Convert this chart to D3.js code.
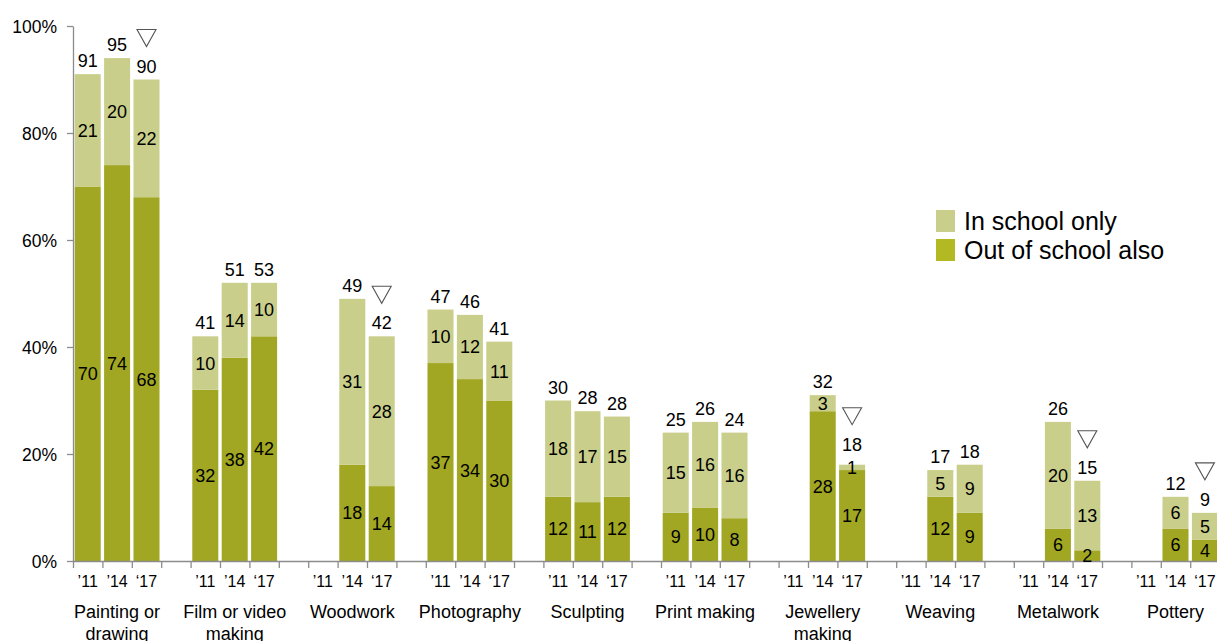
<!DOCTYPE html>
<html>
<head>
<meta charset="utf-8">
<script src="https://cdn.jsdelivr.net/npm/d3@7"></script>
<style>
  html, body { margin: 0; padding: 0; background: #fff; }
  svg { display: block; font-family: "Liberation Sans", Arial, sans-serif; }
</style>
</head>
<body>
<svg id="chart" width="1217" height="641"></svg>
<script>
// ---- data ----
const categories = [
  ["Painting or", "drawing"],
  ["Film or video", "making"],
  ["Woodwork"],
  ["Photography"],
  ["Sculpting"],
  ["Print making"],
  ["Jewellery", "making"],
  ["Weaving"],
  ["Metalwork"],
  ["Pottery"]
];
const years = ["\u201911", "\u201914", "\u201817"];
const outOfSchool = [
  [70, 74, 68],
  [32, 38, 42],
  [null, 18, 14],
  [37, 34, 30],
  [12, 11, 12],
  [9, 10, 8],
  [null, 28, 17],
  [null, 12, 9],
  [null, 6, 2],
  [null, 6, 4]
];
const inSchoolOnly = [
  [21, 20, 22],
  [10, 14, 10],
  [null, 31, 28],
  [10, 12, 11],
  [18, 17, 15],
  [15, 16, 16],
  [null, 3, 1],
  [null, 5, 9],
  [null, 20, 13],
  [null, 6, 5]
];
const totals = [
  [91, 95, 90],
  [41, 51, 53],
  [null, 49, 42],
  [47, 46, 41],
  [30, 28, 28],
  [25, 26, 24],
  [null, 32, 18],
  [null, 17, 18],
  [null, 26, 15],
  [null, 12, 9]
];
// significant decrease marker on the '17 bar
const decline = [true, false, true, false, false, false, true, false, true, true];
const yTicks = [0, 20, 40, 60, 80, 100];
const seriesNames = ["In school only", "Out of school also"];

// ---- style ----
const colLight = "#c9cf8a";
const colDark = "#a1a722";
const colDarkLegend = "#b3b923";
const axisCol = "#8c8c8c";

const svg = d3.select("#chart");
const x0 = 73, x1 = 1219.6, yTop = 26, yBot = 561;
const nSlots = categories.length * 4 - 1;

const slotIdx = d3.range(nSlots);
const xBand = d3.scaleBand().domain(slotIdx).range([x0, x1])
  .paddingInner(0.115).paddingOuter(0.0575);
const xLin = d3.scaleLinear().domain([0, nSlots]).range([x0, x1]);
const y = d3.scaleLinear().domain([0, 100]).range([yBot, yTop]);

// build records
const recs = [];
categories.forEach((c, i) => {
  years.forEach((yr, j) => {
    if (outOfSchool[i][j] == null) return;
    recs.push({ cat: i, yr: j, slot: i * 4 + j,
      dark: outOfSchool[i][j], light: inSchoolOnly[i][j], total: totals[i][j],
      tri: decline[i] && j === 2 });
  });
});

// bars
const g = svg.append("g");
g.selectAll("rect.dark").data(recs).join("rect")
  .attr("x", d => xBand(d.slot)).attr("width", xBand.bandwidth())
  .attr("y", d => y(d.dark)).attr("height", d => y(0) - y(d.dark))
  .attr("fill", colDark);
g.selectAll("rect.light").data(recs).join("rect")
  .attr("x", d => xBand(d.slot)).attr("width", xBand.bandwidth())
  .attr("y", d => y(d.dark + d.light)).attr("height", d => y(d.dark) - y(d.dark + d.light))
  .attr("fill", colLight);

// y axis
const yAxis = d3.axisLeft(y).tickValues(yTicks).tickFormat(d => d + "%").tickSize(6).tickSizeOuter(0);
const ya = svg.append("g").attr("transform", `translate(${x0},0)`).call(yAxis);
ya.select(".domain").attr("stroke", axisCol).attr("stroke-width", 1.3);
ya.selectAll(".tick line").attr("stroke", axisCol).attr("stroke-width", 1.3);
ya.selectAll(".tick text").attr("font-size", "17.5px").attr("fill", "#000")
  .attr("font-family", "'Liberation Sans', Arial, sans-serif").attr("x", -16).attr("dy", "0.36em");

// x axis
const xAxis = d3.axisBottom(xLin).tickValues(d3.range(0, nSlots + 1)).tickFormat("").tickSize(7).tickSizeOuter(0);
const xa = svg.append("g").attr("transform", `translate(0,${yBot})`).call(xAxis);
xa.select(".domain").attr("stroke", axisCol).attr("stroke-width", 1.3);
xa.selectAll(".tick line").attr("stroke", axisCol).attr("stroke-width", 1.3);

// year labels
const yearLabels = [];
categories.forEach((c, i) => years.forEach((yr, j) => yearLabels.push({ slot: i * 4 + j, t: yr })));
svg.append("g").selectAll("text").data(yearLabels).join("text")
  .attr("x", d => xBand(d.slot) + xBand.bandwidth() / 2)
  .attr("y", 587).attr("text-anchor", "middle")
  .attr("font-size", "16px").attr("fill", "#000").text(d => d.t);

// category labels
const cg = svg.append("g");
categories.forEach((c, i) => {
  const cx = (xBand(i * 4) + xBand(i * 4 + 2) + xBand.bandwidth()) / 2;
  const t = cg.append("text").attr("x", cx).attr("y", 618).attr("text-anchor", "middle")
    .attr("font-size", "18px").attr("fill", "#000");
  c.forEach((line, k) => t.append("tspan").attr("x", cx).attr("dy", k === 0 ? 0 : 22).text(line));
});

// value labels
const lg = svg.append("g").attr("font-size", "18px").attr("fill", "#000").attr("text-anchor", "middle");
lg.selectAll("text.d").data(recs).join("text")
  .attr("x", d => xBand(d.slot) + xBand.bandwidth() / 2)
  .attr("y", d => y(d.dark / 2)).attr("dy", "0.36em").text(d => d.dark);
lg.selectAll("text.l").data(recs).join("text")
  .attr("x", d => xBand(d.slot) + xBand.bandwidth() / 2)
  .attr("y", d => y(d.dark + d.light / 2)).attr("dy", "0.36em").text(d => d.light);
const totY = d => y(d.dark + d.light) - 7 - (d.light < 3 ? 7 : 0);
lg.selectAll("text.t").data(recs).join("text")
  .attr("x", d => xBand(d.slot) + xBand.bandwidth() / 2)
  .attr("y", totY).text(d => d.total);

// decline triangles
svg.append("g").selectAll("path").data(recs.filter(d => d.tri)).join("path")
  .attr("d", d => {
    const cx = xBand(d.slot) + xBand.bandwidth() / 2;
    const b = totY(d) - 26;
    return `M${cx - 9.5},${b - 17}L${cx + 9.5},${b - 17}L${cx},${b}Z`;
  })
  .attr("fill", "none").attr("stroke", "#555").attr("stroke-width", 1.1);

// legend
const leg = svg.append("g");
const legCols = [colLight, colDarkLegend];
seriesNames.forEach((n, k) => {
  leg.append("rect").attr("x", 936).attr("y", 210 + k * 29).attr("width", 19).attr("height", 22).attr("fill", legCols[k]);
  leg.append("text").attr("x", 964).attr("y", 230 + k * 29).attr("font-size", "25px").attr("fill", "#000").text(n);
});
</script>
</body>
</html>
